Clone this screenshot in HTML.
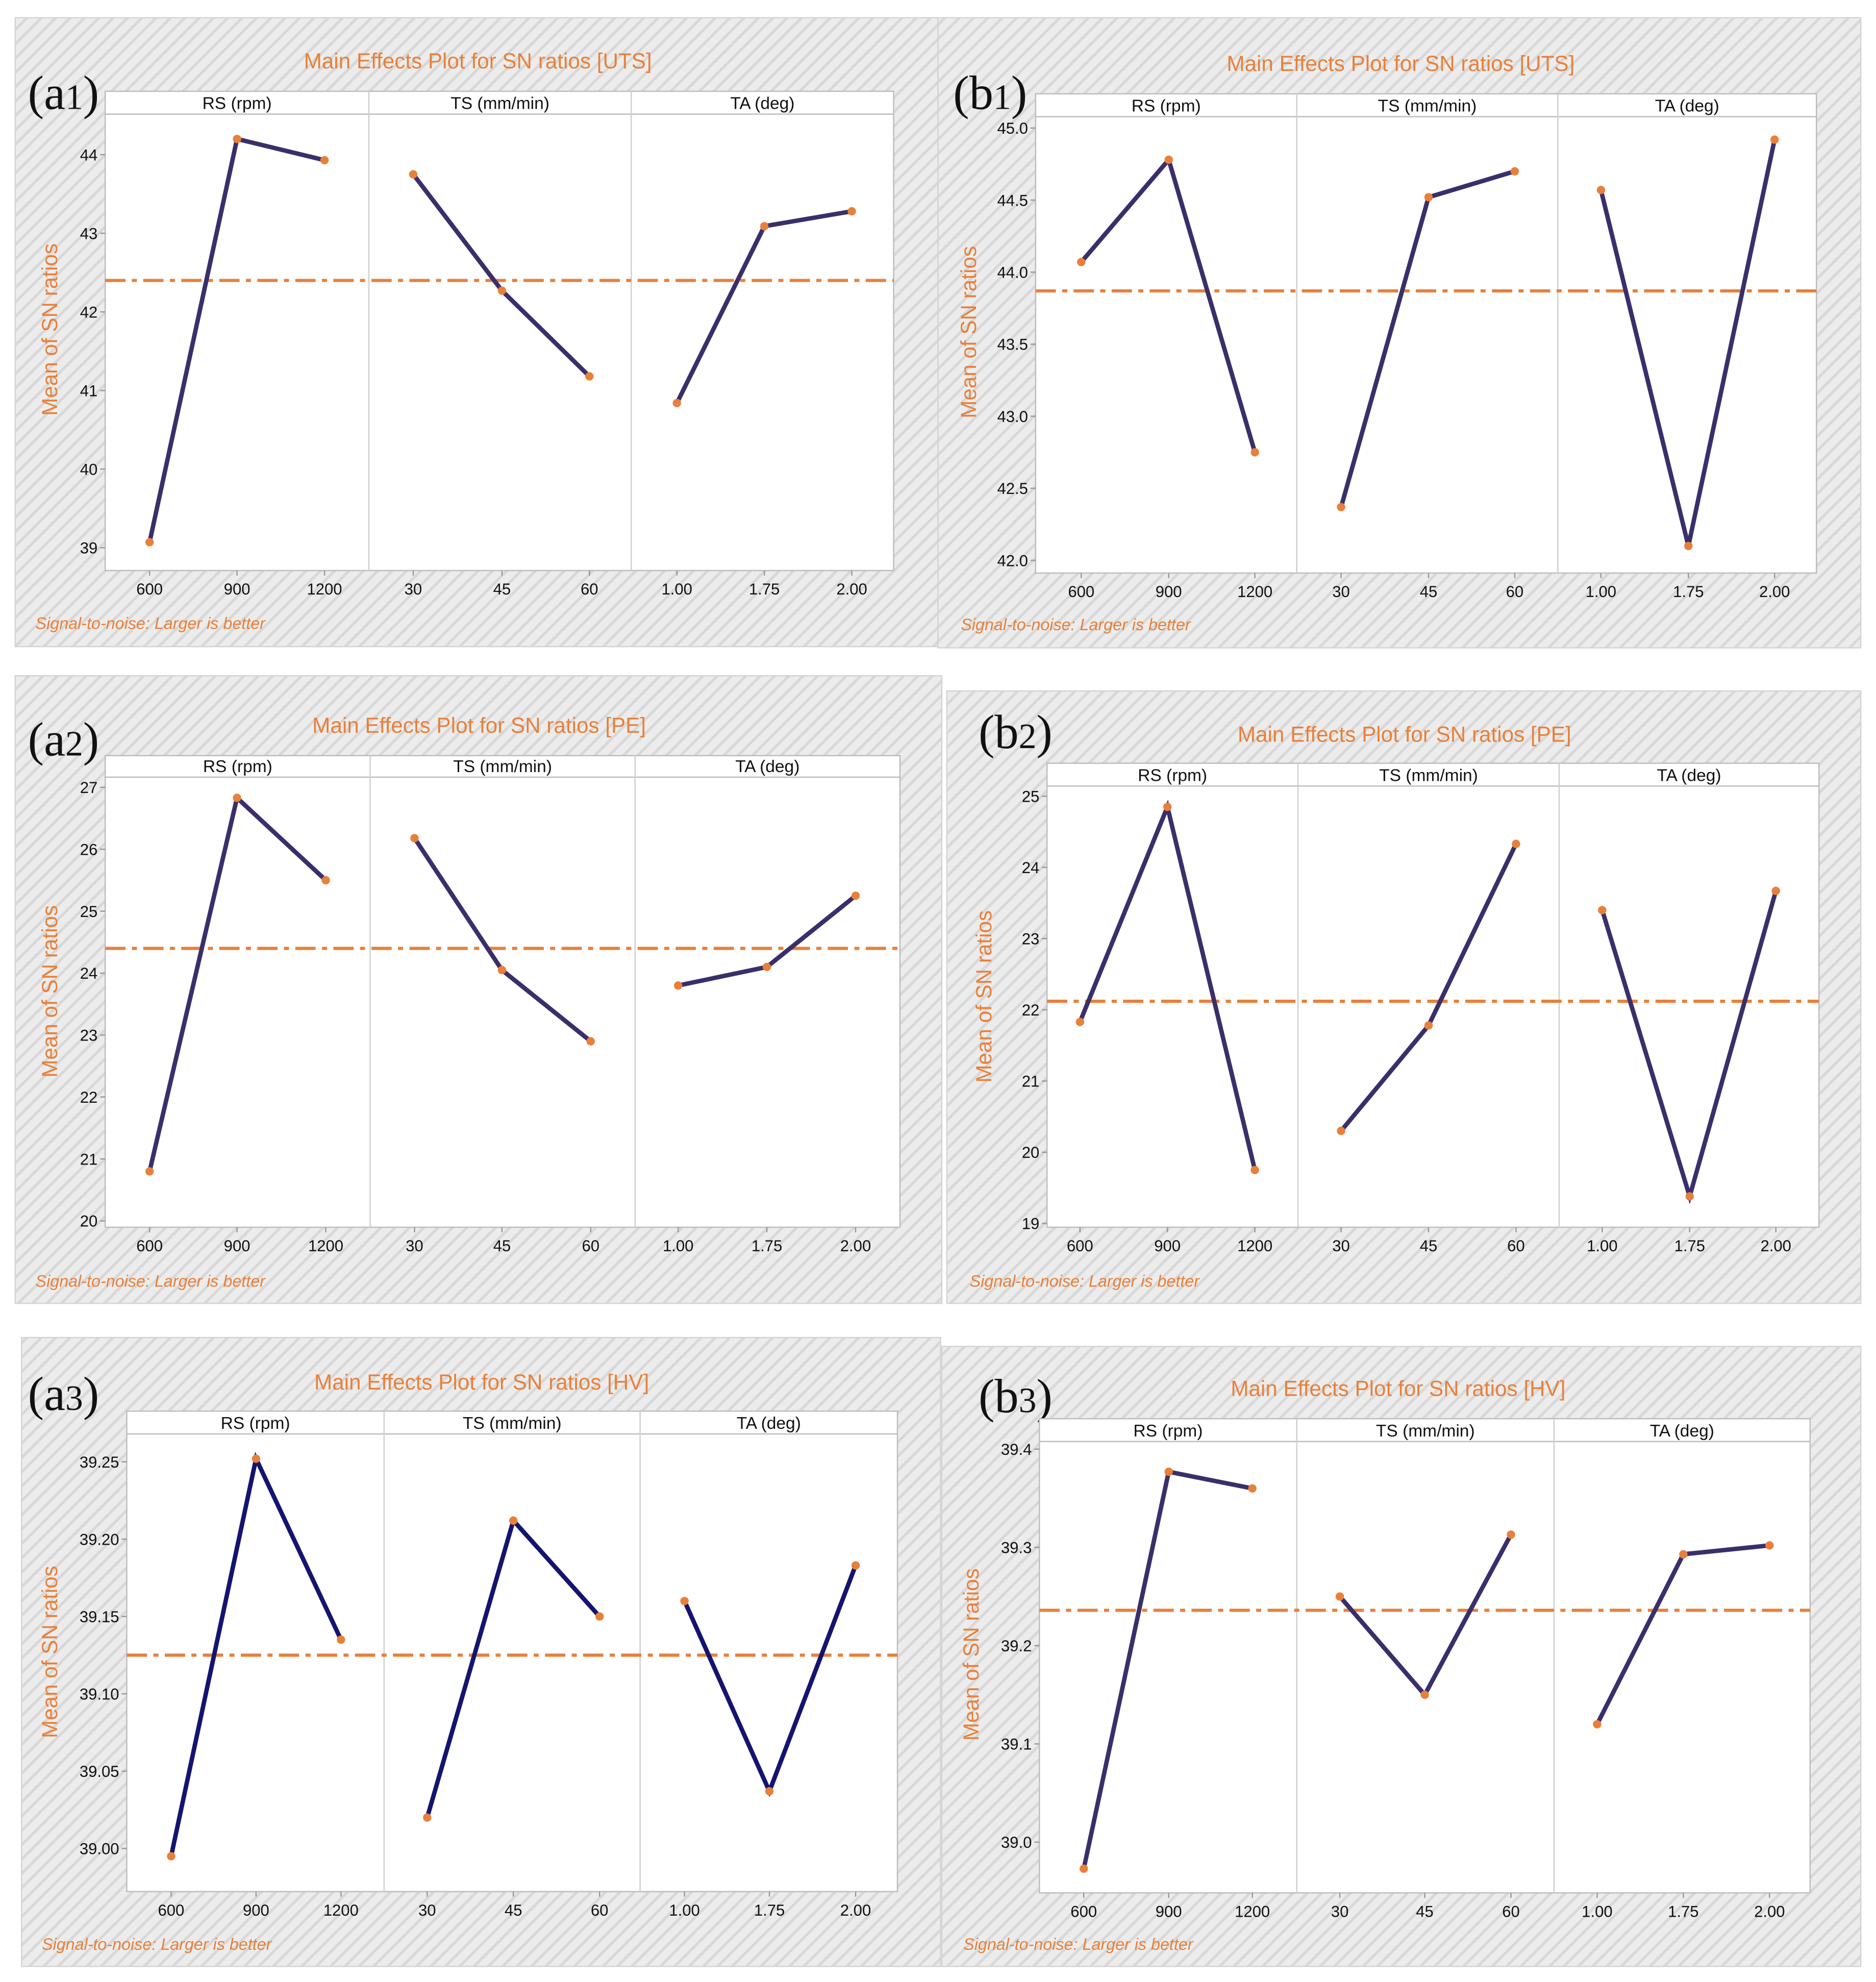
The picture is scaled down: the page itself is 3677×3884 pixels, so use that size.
<!DOCTYPE html>
<html><head><meta charset="utf-8"><style>
html,body{margin:0;padding:0;background:#fff;}
svg{display:block;}
</style></head><body>
<svg id="root" width="3677" height="3884" viewBox="0 0 1480 1563.3" preserveAspectRatio="none" xmlns="http://www.w3.org/2000/svg" font-family="Liberation Sans Narrow, Liberation Sans, sans-serif">
<defs>
<pattern id="hatch" width="8" height="8" patternUnits="userSpaceOnUse" patternTransform="rotate(45)">
<rect width="8" height="8" fill="#ececec"/><rect width="2.2" height="8" fill="#d8d8d8"/>
</pattern>
</defs>
</svg>
<script>
const factorNames = ["RS (rpm)","TS (mm/min)","TA (deg)"];
const xLabels = [["600","900","1200"],["30","45","60"],["1.00","1.75","2.00"]];
const a1Values = [39.07,44.2,43.93, 43.75,42.27,41.18, 40.84,43.09,43.28];
const b1Values = [44.07,44.78,42.75, 42.37,44.52,44.70, 44.57,42.10,44.92];
const a2Values = [20.8,26.83,25.5, 26.18,24.05,22.9, 23.8,24.1,25.25];
const b2Values = [21.83,24.85,19.75, 20.3,21.78,24.33, 23.4,19.38,23.67];
const a3Values = [38.995,39.252,39.135, 39.02,39.212,39.15, 39.16,39.037,39.183];
const b3Values = [38.973,39.377,39.36, 39.25,39.15,39.313, 39.12,39.293,39.302];
const means = [42.4,43.87,24.4,22.12,39.125,39.236];
const a1Ticks = ["39","40","41","42","43","44"];
const b1Ticks = ["42.0","42.5","43.0","43.5","44.0","44.5","45.0"];
const a2Ticks = ["20","21","22","23","24","25","26","27"];
const b2Ticks = ["19","20","21","22","23","24","25"];
const a3Ticks = ["39.00","39.05","39.10","39.15","39.20","39.25"];
const b3Ticks = ["39.0","39.1","39.2","39.3","39.4"];
const titles = ["Main Effects Plot for SN ratios [UTS]","Main Effects Plot for SN ratios [UTS]","Main Effects Plot for SN ratios [PE]","Main Effects Plot for SN ratios [PE]","Main Effects Plot for SN ratios [HV]","Main Effects Plot for SN ratios [HV]"];
const tags = [["a","1"],["b","1"],["a","2"],["b","2"],["a","3"],["b","3"]];

const panels = [
 {id:"a1",box:[12,14,728,496],title:[377,48],fx:[83,705],hy:[72,90],by:450,div:[291,498],xt:[118,187,256,326,396,465,534,603,672],ya:[39,432,44,122],vals:a1Values,ticks:a1Ticks,tag:[22,73],foot:[28,492],col:"#3a2f6a",ylab:[45,260]},
 {id:"b1",box:[740,14,728,497],title:[1105,50],fx:[817,1433],hy:[74,92],by:452,div:[1023,1229],xt:[853,922,990,1058,1127,1195,1263,1332,1400],ya:[42,442,45,101],vals:b1Values,ticks:b1Ticks,tag:[752,73],foot:[758,493],col:"#3a2f6a",ylab:[770,262]},
 {id:"a2",box:[12,533,731,495],title:[378,572],fx:[83,710],hy:[596,613],by:968,div:[292,501],xt:[118,187,257,327,396,466,535,605,675],ya:[20,963,27,621],vals:a2Values,ticks:a2Ticks,tag:[22,583],foot:[28,1011],col:"#3a2f6a",ylab:[45,782]},
 {id:"b2",box:[747,545,721,483],title:[1108,579],fx:[826,1435],hy:[602,620],by:968,div:[1024,1230],xt:[852,921,990,1058,1127,1196,1264,1333,1401],ya:[19,965,25,628],vals:b2Values,ticks:b2Ticks,tag:[772,577],foot:[765,1011],col:"#3a2f6a",ylab:[782,786]},
 {id:"a3",box:[17,1055,725,496],title:[380,1090],fx:[100,708],hy:[1113,1131],by:1492,div:[303,505],xt:[135,202,269,337,405,473,540,607,675],ya:[39.0,1458,39.25,1153],vals:a3Values,ticks:a3Ticks,tag:[22,1099],foot:[33,1534],col:"#141470",ylab:[45,1303]},
 {id:"b3",box:[743,1062,725,489],title:[1103,1095],fx:[820,1428],hy:[1119,1137],by:1493,div:[1023,1226],xt:[855,922,988,1057,1124,1192,1260,1328,1396],ya:[38.9,1453+0.1*775,39.4,1143],vals:b3Values,ticks:b3Ticks,tag:[772,1101],foot:[760,1534],col:"#3a2f6a",ylab:[772,1305]}
];
const NS="http://www.w3.org/2000/svg";
const root=document.getElementById('root');
const ORANGE="#e8803a";
function mk(tag,attrs,parent,txt){const e=document.createElementNS(NS,tag);for(const k in attrs)e.setAttribute(k,attrs[k]);if(txt!==undefined)e.textContent=txt;parent.appendChild(e);return e;}

panels.forEach((p,pi)=>{
 const g=mk('g',{},root);
 
 
 const bg=mk('rect',{x:p.box[0],y:p.box[1],width:p.box[2],height:p.box[3],fill:'url(#hatch)',stroke:'#d4d4d4','stroke-width':1},g);
 
 
 const t=mk('text',{x:p.title[0],y:p.title[1]+6,'text-anchor':'middle','font-size':17,fill:ORANGE},g,titles[pi]);
 
 
 const tg=mk('text',{x:p.tag[0],y:p.tag[1]+13,'font-size':38,fill:'#111',style:'font-family:"Liberation Serif",serif'},g);
 mk('tspan',{},tg,'('+tags[pi][0]);
 mk('tspan',{'font-size':28},tg,tags[pi][1]);
 mk('tspan',{},tg,')');
 
 
 const [x0,x1]=p.fx;
 const fr=mk('rect',{x:x0,y:p.hy[0],width:x1-x0,height:p.by-p.hy[0],fill:'#fff',stroke:'#bdbdbd','stroke-width':1},g);
 
 
 mk('line',{x1:x0,x2:x1,y1:p.hy[1],y2:p.hy[1],stroke:'#bdbdbd','stroke-width':1},g);
 const bounds=[x0,p.div[0],p.div[1],x1];
 p.div.forEach(d=>{const l=mk('line',{x1:d,x2:d,y1:p.hy[0],y2:p.by,stroke:'#cfcfcf','stroke-width':1},g);
  
  });
 factorNames.forEach((f,i)=>{const h=mk('text',{x:(bounds[i]+bounds[i+1])/2,y:p.hy[1]-4,'text-anchor':'middle','font-size':13.5,fill:'#111'},g,f);
  
  });
 const [v0,py0,v1,py1]=p.ya;
 const yS=v=>py0+(v-v0)*(py1-py0)/(v1-v0);
 p.ticks.forEach(tk=>{const yy=yS(parseFloat(tk));
  mk('line',{x1:x0-4,x2:x0,y1:yy,y2:yy,stroke:'#999','stroke-width':1},g);
  const tl=mk('text',{x:x0-6,y:yy+4.5,'text-anchor':'end','font-size':12.5,fill:'#111'},g,tk);
  
  });
 p.xt.forEach((xx,i)=>{mk('line',{x1:xx,x2:xx,y1:p.by,y2:p.by+4,stroke:'#999','stroke-width':1},g);
  const xl=mk('text',{x:xx,y:p.by+19,'text-anchor':'middle','font-size':12.5,fill:'#111'},g,xLabels[Math.floor(i/3)][i%3]);
  
  });
 const ym=yS(means[pi]);
 const ml=mk('line',{x1:x0,x2:x1,y1:ym,y2:ym,stroke:ORANGE,'stroke-width':2.5,'stroke-dasharray':'16,5,4,5'},g);
 
 
 for(let f=0;f<3;f++){
  const pts=[0,1,2].map(k=>[p.xt[f*3+k],yS(p.vals[f*3+k])]);
  const pl=mk('polyline',{points:pts.map(q=>q.join(',')).join(' '),fill:'none',stroke:p.col,'stroke-width':3.5,'stroke-linejoin':'miter'},g);
  
  
  pts.forEach(q=>{const c=mk('circle',{cx:q[0],cy:q[1],r:3.3,fill:ORANGE},g);
   
   });
 }
 const yl=mk('text',{x:p.ylab[0],y:p.ylab[1],'text-anchor':'middle','font-size':17,fill:ORANGE,style:'font-family:"Liberation Sans",sans-serif',transform:`rotate(-90 ${p.ylab[0]} ${p.ylab[1]})`},g,'Mean of SN ratios');
 
 
 const ft=mk('text',{x:p.foot[0],y:p.foot[1]+4,'font-size':13,'font-style':'italic',fill:ORANGE},g,'Signal-to-noise: Larger is better');
 
 
});
</script>
</body></html>
